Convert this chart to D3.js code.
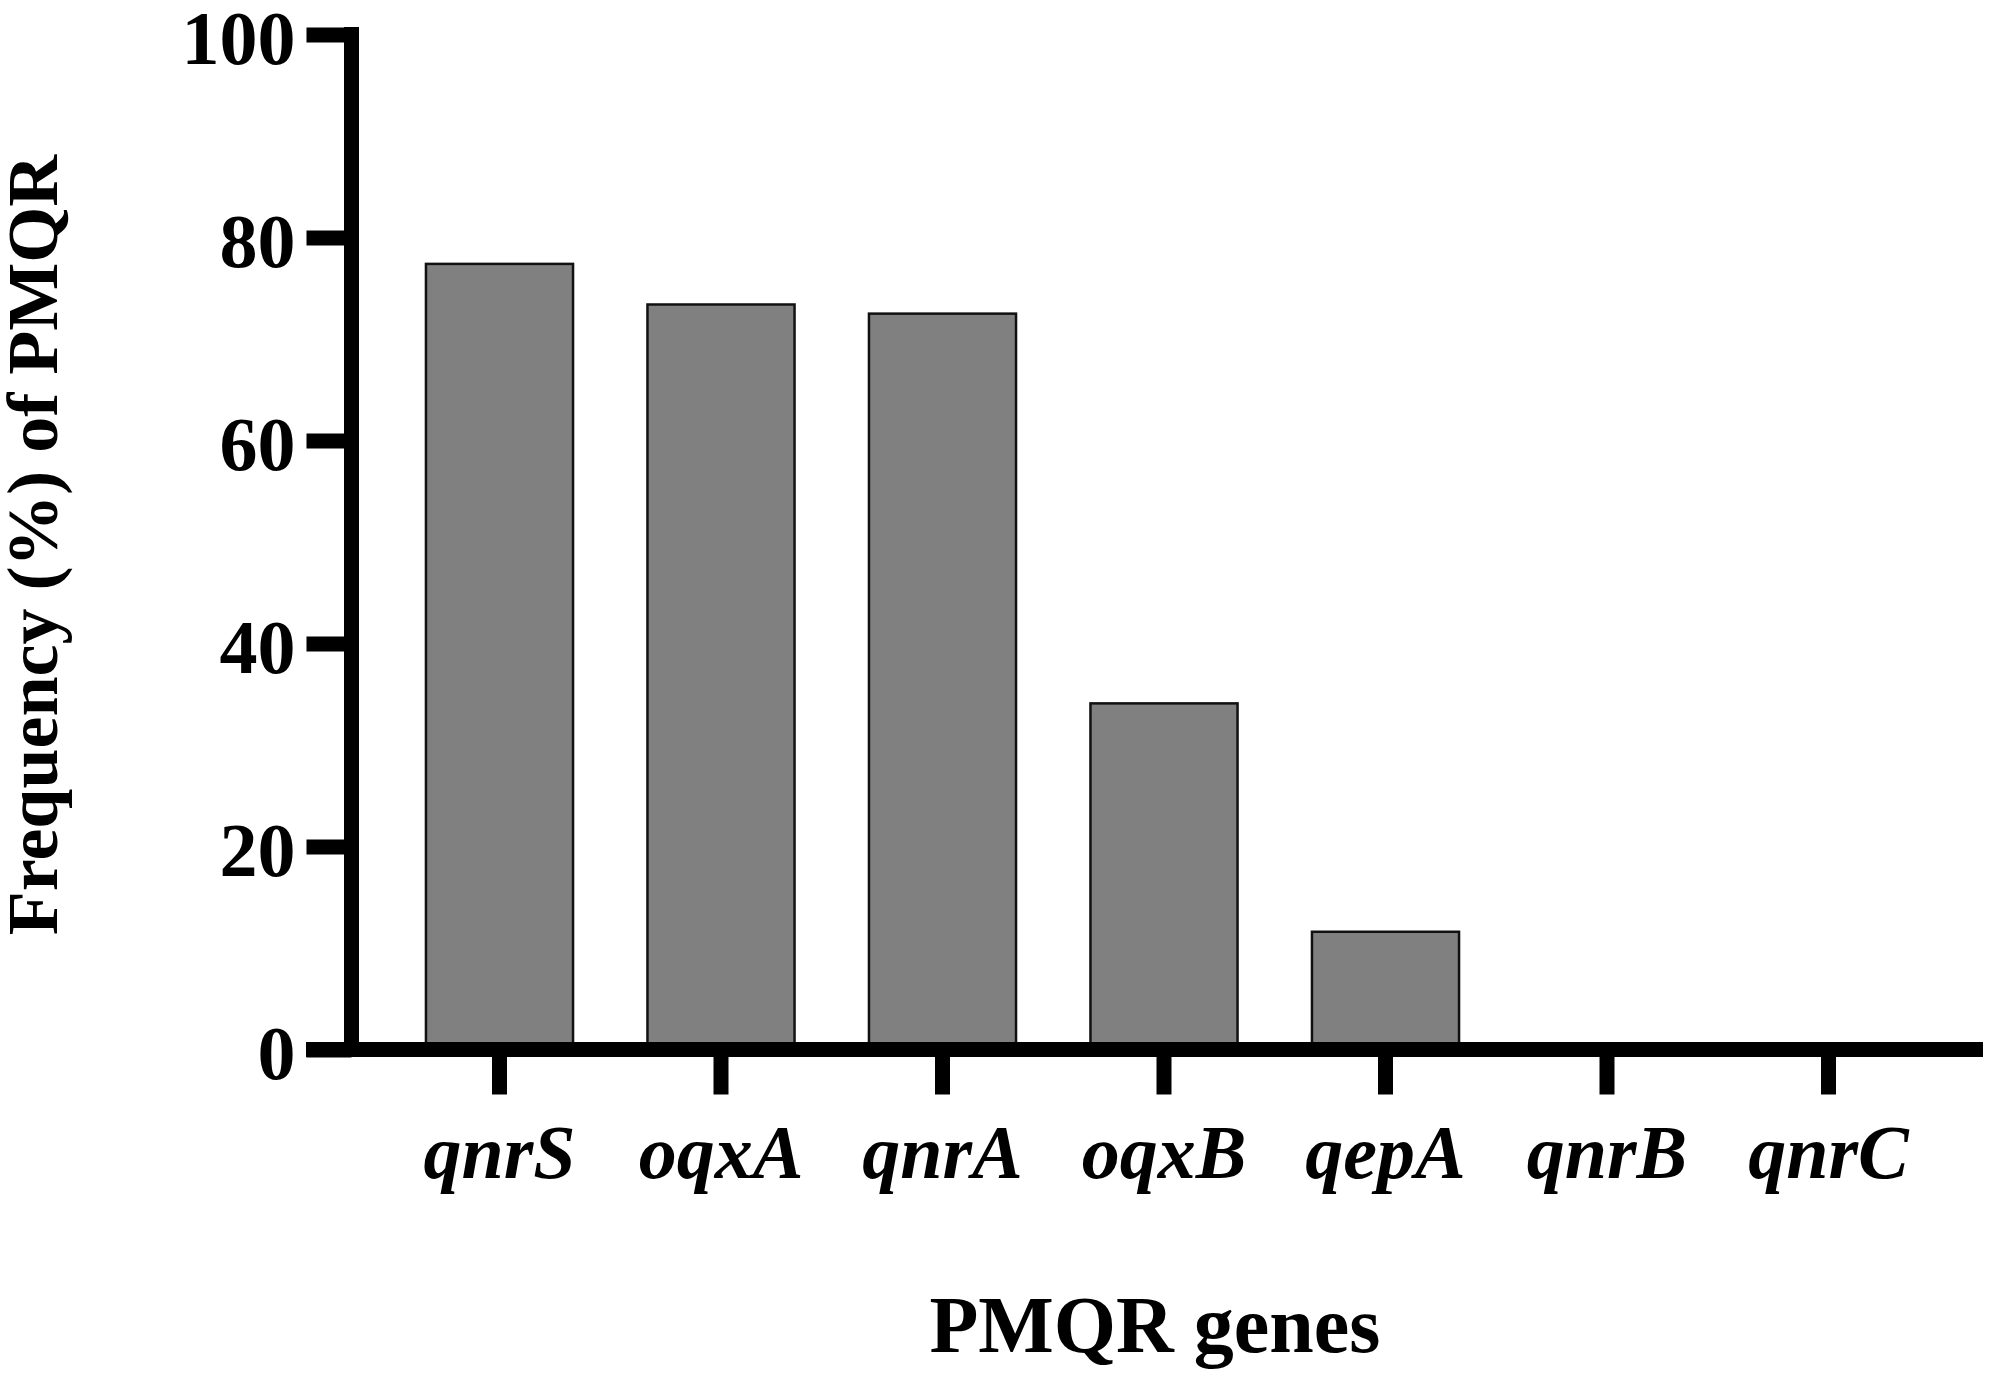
<!DOCTYPE html>
<html>
<head>
<meta charset="utf-8">
<script src="https://cdn.jsdelivr.net/npm/d3@7"></script>
<style>
  body { margin: 0; background: #fff; }
  text { font-family: "Liberation Serif", "Times New Roman", serif; font-weight: bold; }
</style>
</head>
<body>
<div id="chart"></div>
<script>
(function () {

    // data
    var genes = ["qnrS", "oqxA", "qnrA", "oqxB", "qepA", "qnrB", "qnrC"];
    var frequency = [77.4, 73.4, 72.5, 34.1, 11.6, 0, 0];
    var yTicks = [0, 20, 40, 60, 80, 100];

    var width = 1995, height = 1379;
    var axisX = 351.5, axisY = 1049.5;

    var svg = d3.select("#chart").append("svg")
        .attr("width", width)
        .attr("height", height);

    var y = d3.scaleLinear()
        .domain([0, 100])
        .range([axisY, 34.5]);

    var x = d3.scaleBand()
        .domain(genes)
        .range([388.75, 1939.25])
        .paddingInner(0.336)
        .paddingOuter(0.168);

    /* bars */
    svg.selectAll(".bar")
        .data(genes.map(function (g, i) { return { gene: g, value: frequency[i] }; }))
        .enter().append("rect")
        .attr("class", "bar")
        .attr("x", function (d) { return x(d.gene); })
        .attr("width", x.bandwidth())
        .attr("y", function (d) { return y(d.value); })
        .attr("height", function (d) { return axisY - y(d.value); })
        .attr("fill", "#808080")
        .attr("stroke", "#111")
        .attr("stroke-width", 2.5)
        .style("display", function (d) { return d.value > 0 ? null : "none"; });

    /* y axis */
    var gy = svg.append("g")
        .attr("transform", "translate(" + axisX + ",0)")
        .call(d3.axisLeft(y).tickValues(yTicks).tickSize(45).tickPadding(11).tickSizeOuter(0));
    gy.select(".domain").remove();
    gy.selectAll(".tick line").attr("stroke", "#000").attr("stroke-width", 15);
    gy.selectAll(".tick text")
        .attr("fill", "#000")
        .style("font-size", "76px")
        .attr("dy", "0.38em");

    /* x axis */
    var gx = svg.append("g")
        .attr("transform", "translate(0," + axisY + ")")
        .call(d3.axisBottom(x).tickSize(45).tickPadding(30).tickSizeOuter(0));
    gx.select(".domain").remove();
    gx.selectAll(".tick line").attr("stroke", "#000").attr("stroke-width", 15);
    gx.selectAll(".tick text")
        .attr("fill", "#000")
        .style("font-size", "76px")
        .style("font-style", "italic");

    // thick axis lines
    svg.append("line")
        .attr("x1", axisX).attr("x2", axisX)
        .attr("y1", 27).attr("y2", axisY + 7.5)
        .attr("stroke", "#000").attr("stroke-width", 15);
    svg.append("line")
        .attr("x1", 306).attr("x2", 1983)
        .attr("y1", axisY).attr("y2", axisY)
        .attr("stroke", "#000").attr("stroke-width", 15);

    /* titles */
    svg.append("text")
        .attr("transform", "translate(57,545) rotate(-90)")
        .attr("text-anchor", "middle")
        .style("font-size", "72px")
        .text("Frequency (%) of PMQR");

    svg.append("text")
        .attr("x", 1155)
        .attr("y", 1352)
        .attr("text-anchor", "middle")
        .style("font-size", "80px")
        .text("PMQR genes");
})();
</script>
</body>
</html>
